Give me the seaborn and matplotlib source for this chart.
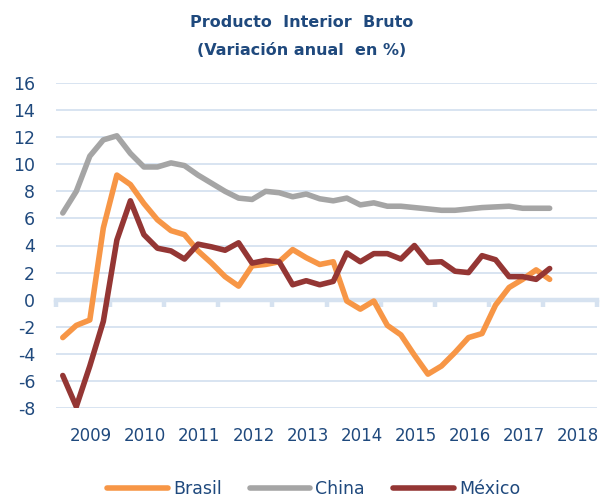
import numpy as np
import pandas as pd
import matplotlib
matplotlib.use('Agg')
import matplotlib.pyplot as plt
import seaborn as sns

years = ['2009', '2010', '2011', '2012', '2013', '2014', '2015', '2016', '2017', '2018']

# quarterly values, 2009Q1 .. 2018Q1
brasil = [-2.8, -1.9, -1.5, 5.3, 9.2, 8.5, 7.1, 5.9, 5.1, 4.8, 3.6, 2.7, 1.7, 1.0,
          2.5, 2.6, 2.8, 3.7, 3.1, 2.6, 2.8, -0.1, -0.7, -0.1, -1.9, -2.6, -4.1,
          -5.5, -4.9, -3.9, -2.8, -2.5, -0.4, 0.9, 1.5, 2.2, 1.5]
china = [6.4, 8.0, 10.6, 11.8, 12.1, 10.8, 9.8, 9.8, 10.1, 9.9, 9.2, 8.6, 8.0, 7.5,
         7.4, 8.0, 7.9, 7.6, 7.8, 7.45, 7.3, 7.5, 7.0, 7.15, 6.9, 6.9, 6.8, 6.7,
         6.6, 6.6, 6.7, 6.8, 6.85, 6.9, 6.75, 6.75, 6.75]
mexico = [-5.6, -7.9, -4.9, -1.6, 4.4, 7.3, 4.8, 3.8, 3.6, 3.0, 4.1, 3.9, 3.65, 4.2,
          2.7, 2.9, 2.8, 1.1, 1.4, 1.1, 1.35, 3.45, 2.8, 3.4, 3.4, 3.0, 4.0, 2.75,
          2.8, 2.1, 2.0, 3.25, 2.95, 1.7, 1.7, 1.5, 2.3]

df = pd.DataFrame({'Brasil': brasil, 'China': china, 'México': mexico})
df['q'] = np.arange(len(df))
long = df.melt(id_vars='q', var_name='pais', value_name='valor')

colors = {'Brasil': '#F79646', 'China': '#A5A5A5', 'México': '#943634'}
blue = '#1F497D'
grid_c = '#D6E2F0'

sns.set_style('white')
plt.rcParams['font.family'] = ['DejaVu Sans']
plt.rcParams['axes.unicode_minus'] = False

fig = plt.figure(figsize=(6.03, 5.03), dpi=100)
ax = fig.add_axes([56 / 603, 95 / 503, 541 / 603, 325 / 503])

for y in range(-8, 17, 2):
    if y != 0:
        ax.axhline(y, color=grid_c, lw=1.3, zorder=0)

sns.lineplot(data=long, x='q', y='valor', hue='pais', palette=colors,
             linewidth=4, ax=ax, legend=True, zorder=3)
for line in ax.lines:
    line.set_solid_capstyle('round')
    line.set_solid_joinstyle('round')

ax.set_xlim(-0.5, 39.5)
ax.set_ylim(-8, 16)
ax.set_yticks(range(-8, 17, 2))
ax.set_xticks(np.arange(-0.5, 40, 4))
ax.set_xticklabels([])
ax.set_xlabel('')
ax.set_ylabel('')

for s in ['top', 'right', 'left']:
    ax.spines[s].set_visible(False)
ax.spines['bottom'].set_position(('data', 0))
ax.spines['bottom'].set_color(grid_c)
ax.spines['bottom'].set_linewidth(3.2)
ax.spines['bottom'].set_zorder(1)
ax.tick_params(axis='x', direction='out', length=5, width=3.2, color=grid_c, bottom=True)
ax.tick_params(axis='y', length=0, labelsize=12.5, labelcolor=blue, pad=15)

for i, yr in enumerate(years):
    ax.text(2.1 + 4 * i, -0.085, yr, transform=ax.get_xaxis_transform(),
            ha='center', va='center', fontsize=12, color=blue)

fig.text(0.5, 0.955, 'Producto  Interior  Bruto', ha='center', va='center',
         fontsize=11.5, fontweight='bold', color=blue)
fig.text(0.5, 0.9, '(Variación anual  en %)', ha='center', va='center',
         fontsize=11.5, fontweight='bold', color=blue)

handles, labels = ax.get_legend_handles_labels()
ax.legend(handles, labels, loc='center', bbox_to_anchor=(0.52, 0.028),
          bbox_transform=fig.transFigure, ncol=3, frameon=False,
          fontsize=12.5, labelcolor=blue, handlelength=3.5, handletextpad=0.3,
          columnspacing=1.6)

fig.savefig('out.png', dpi=100)
